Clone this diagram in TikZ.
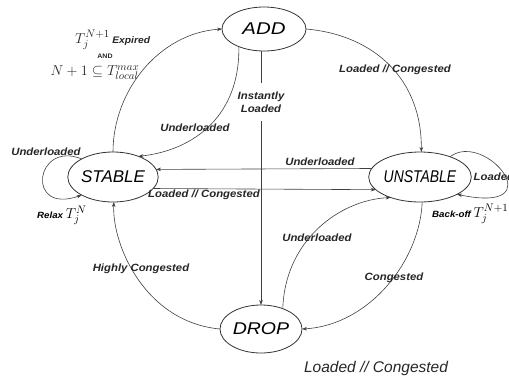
\documentclass[tikz,border=0pt]{standalone}
\usepackage[no-math]{fontspec}
\usepackage{graphicx}
\setmainfont{Liberation Sans}
\newfontfamily\lblfont[FakeStretch=1.08]{Liberation Sans}
\usetikzlibrary{arrows.meta,shapes.geometric}
\begin{document}
\begin{tikzpicture}[x=1pt,y=-1pt,
  st/.style={ellipse, draw=black!80, line width=0.8pt, inner sep=0pt, outer sep=0pt,
    minimum width=84pt, minimum height=50pt, font=\fontsize{17}{17}\selectfont\itshape},
  tr/.style={draw=black!75, line width=0.6pt, -{Stealth[length=5pt,width=3.6pt]}},
  lbl/.style={font=\lblfont\fontsize{10.5}{13}\selectfont\bfseries\itshape, inner sep=0.5pt, text=black!85},
  mth/.style={font=\fontsize{15}{15}\selectfont, inner sep=0pt, text=black!85}]
\useasboundingbox (0,0) rectangle (509,381);

% states
\node[st, minimum height=44pt] (add) at (264,29) {\scalebox{1.2}[1]{ADD}};
\node[st] (stable) at (113,177) {\scalebox{1.0}[1]{STABLE}};
\node[st] (unstable) at (420,177) {\scalebox{0.82}[1]{UNSTABLE}};
\node[st, minimum width=82pt, minimum height=48pt] (drop) at (261,329) {\scalebox{1.15}[1]{DROP}};

% STABLE -> ADD
\draw[tr] (stable.90) .. controls (113,90) and (160,33) .. (add.west);
\node[mth, anchor=west] (t1) at (75,40) {$T_j^{N+1}$\,{\lblfont\fontsize{9.5}{9.5}\selectfont\bfseries\itshape Expired}};
\node[lbl, font=\lblfont\fontsize{6.5}{6.5}\selectfont\bfseries] (andl) at (105,56) {AND};
\node[mth] (cond) at (95,73) {$N+1 \subseteq T_{local}^{max}$};

% ADD -> STABLE
\draw[tr] (add.215) .. controls (240,115) and (195,150) .. (stable.39);
\node[lbl] (l2) at (195,128) {Underloaded};

% ADD -> UNSTABLE
\draw[tr] (add.east) .. controls (375,35) and (422,80) .. (unstable.87);
\node[lbl] (l3) at (395,70) {Loaded // Congested};

% ADD -> DROP
\draw[tr] (drop.north |- add.south) -- (drop.north);
\node[lbl, fill=white, align=center, inner ysep=9pt, inner xsep=2pt] (l4) at (261,102) {Instantly\\Loaded};

% UNSTABLE <-> STABLE
\draw[tr] (unstable.170) -- (stable.10);
\node[lbl] (l5) at (320,162) {Underloaded};
\draw[tr] (stable.-16) -- (unstable.196);
\node[lbl] (l6) at (204,195) {Loaded // Congested};

% STABLE self loop
\draw[tr] (stable.150) .. controls (35,140) and (25,215) .. (stable.210);
\node[lbl] (l7) at (46,152) {Underloaded};
\node[anchor=west, inner sep=0pt] (l7b) at (37,215) {{\lblfont\fontsize{9}{9}\selectfont\bfseries\itshape Relax}\ \fontsize{15}{15}\selectfont$T_j^N$};

% UNSTABLE self loop
\draw[tr] (unstable.34) .. controls (485,130) and (555,215) .. (unstable.-25);
\node[lbl, anchor=west] (l8) at (473,177) {Loaded};
\node[anchor=west, inner sep=0pt] (l8b) at (432,214) {{\lblfont\fontsize{9}{9}\selectfont\bfseries\itshape Back-off}\ \fontsize{15}{15}\selectfont$T_j^{N+1}$};

% DROP -> UNSTABLE
\draw[tr] (drop.43) .. controls (285,240) and (340,200) .. (unstable.215);
\node[lbl] (l9) at (317,238) {Underloaded};

% UNSTABLE -> DROP
\draw[tr] (unstable.-85) .. controls (420,260) and (370,325) .. (drop.east);
\node[lbl] (l10) at (394,278) {Congested};

% DROP -> STABLE
\draw[tr] (drop.west) .. controls (145,322) and (112,245) .. (stable.-88);
\node[lbl] (l11) at (141,269) {Highly Congested};

% free text
\node[font=\fontsize{15.5}{16}\selectfont\itshape, text=black!85, inner sep=0pt] (foot) at (376,368) {Loaded // Congested};
\end{tikzpicture}
\end{document}
